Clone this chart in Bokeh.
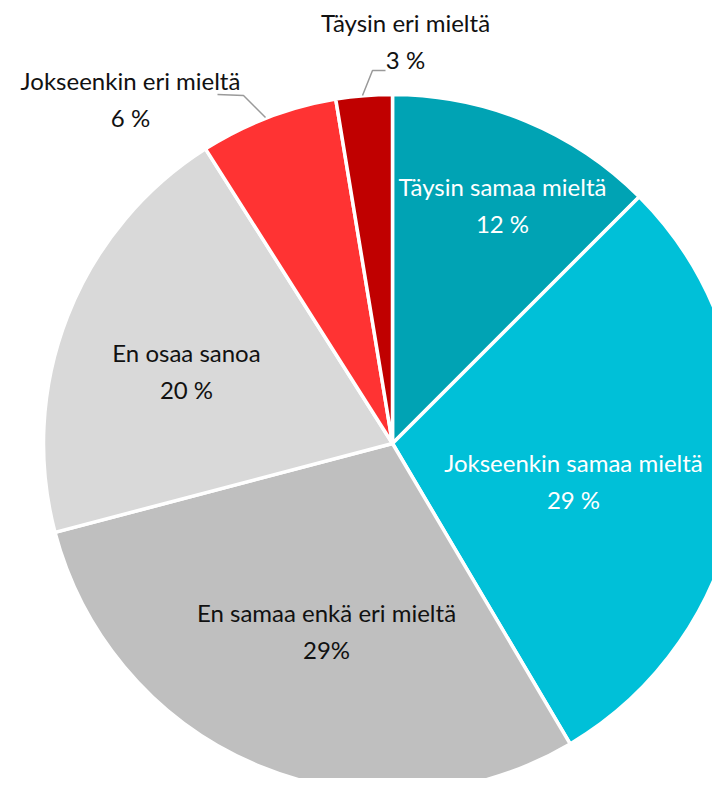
import math
from bokeh.plotting import figure
from bokeh.models import Range1d, ColumnDataSource
from bokeh.core.properties import value
from bokeh.embed import file_html
from bokeh.resources import INLINE

categories = ["Täysin samaa mieltä", "Jokseenkin samaa mieltä", "En samaa enkä eri mieltä",
              "En osaa sanoa", "Jokseenkin eri mieltä", "Täysin eri mieltä"]
shares = [12.5, 29.0, 29.4, 20.1, 6.4, 2.6]
pct_labels = ["12 %", "29 %", "29%", "20 %", "6 %", "3 %"]

colors = ["#00a3b4", "#00c0d8", "#bfbfbf", "#d9d9d9", "#ff3333", "#c00000"]
text_colors = ["white", "white", "#111111", "#111111", "#111111", "#111111"]
# label anchor positions (picture pixel coords, y down)
label_pos = [(502, 186), (573, 462), (326, 612), (186, 352), (130, 80), (405, 22)]
line_gap = 37

H_REF = 794
W, H = 712, 778
CX, CY, R = 392, 443, 349

def fy(y):
    return H_REF - y

p = figure(width=W, height=H, output_backend="svg", toolbar_location=None,
           x_range=Range1d(0, W), y_range=Range1d(H_REF - H, H_REF),
           min_border=0, outline_line_color=None)
p.axis.visible = False
p.grid.visible = False
p.background_fill_color = "white"

total = sum(shares)
starts, ends = [], []
cum = 0.0
for s in shares:
    starts.append(math.pi / 2 - 2 * math.pi * cum / total)
    cum += s
    ends.append(math.pi / 2 - 2 * math.pi * cum / total)

src = ColumnDataSource(dict(start=starts, end=ends, color=colors, cat=categories))
p.wedge(x=CX, y=fy(CY), radius=R, start_angle="start", end_angle="end",
        direction="clock", fill_color="color", line_color="white", line_width=3.5,
        source=src)

# leader lines
p.line([217, 243, 265], [fy(94), fy(95), fy(117)], line_color="#9a9a9a", line_width=1.5)
p.line([385, 372, 362], [fy(70), fy(70), fy(95)], line_color="#9a9a9a", line_width=1.5)

font = value("'Liberation Sans Narrow', Lato, sans-serif")
tx = [pos[0] for pos in label_pos]
ty1 = [fy(pos[1]) for pos in label_pos]
ty2 = [fy(pos[1] + line_gap) for pos in label_pos]
tsrc = ColumnDataSource(dict(x=tx, y1=ty1, y2=ty2, name=categories, pct=pct_labels, tc=text_colors))
p.text(x="x", y="y1", text="name", text_color="tc", text_font=font, text_font_size="24px",
       text_align="center", text_baseline="middle", source=tsrc)
p.text(x="x", y="y2", text="pct", text_color="tc", text_font=font, text_font_size="24px",
       text_align="center", text_baseline="middle", source=tsrc)

open("out.html", "w").write(file_html(p, INLINE))
